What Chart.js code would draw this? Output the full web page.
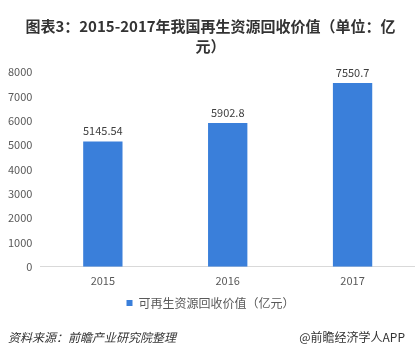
<!DOCTYPE html>
<html><head><meta charset="utf-8">
<script src="https://cdn.jsdelivr.net/npm/chart.js@4/dist/chart.umd.min.js"></script>
<style>
html,body{margin:0;padding:0;background:#fff;}
#wrap{position:relative;width:415px;height:355px;overflow:hidden;}
canvas{position:absolute;left:0;top:0;}
.foot{position:absolute;top:329px;font-family:"Noto Sans CJK SC","Noto Sans",sans-serif;font-size:12px;color:#333;line-height:16px;}
</style></head>
<body><div id="wrap"><canvas id="c" width="415" height="355"></canvas>
<div class="foot" style="left:8px;font-style:italic;">资料来源：前瞻产业研究院整理</div>
<div class="foot" style="right:10px;">@前瞻经济学人APP</div>
</div>
<script>
const categories = ['2015', '2016', '2017'];
const values = [5145.54, 5902.8, 7550.7];
const valueLabels = ['5145.54', '5902.8', '7550.7'];
const seriesName = '可再生资源回收价值（亿元）';
const titleLines = ['图表3：2015-2017年我国再生资源回收价值（单位：亿', '元）'];

const FONT = '"Noto Sans CJK SC","Noto Sans",sans-serif';
const labelPlugin = {
  id: 'vlabels',
  afterDatasetsDraw(chart) {
    const ctx = chart.ctx;
    const meta = chart.getDatasetMeta(0);
    ctx.save();
    ctx.font = '11px ' + FONT;
    ctx.fillStyle = '#404040';
    ctx.textAlign = 'center';
    ctx.textBaseline = 'bottom';
    meta.data.forEach((bar, i) => {
      ctx.fillText(valueLabels[i], bar.x, bar.y - 5);
    });
    ctx.restore();
  }
};

new Chart(document.getElementById('c'), {
  type: 'bar',
  data: {
    labels: categories,
    datasets: [{
      label: seriesName,
      data: values,
      backgroundColor: '#3A7FDA',
      categoryPercentage: 0.315,
      barPercentage: 1.0
    }]
  },
  options: {
    responsive: false,
    animation: false,
    devicePixelRatio: 1,
    layout: { padding: { left: 0, right: -6, top: 6, bottom: 36 } },
    plugins: {
      title: {
        display: true,
        text: titleLines,
        color: '#333333',
        font: { family: FONT, size: 15, weight: 'bold', lineHeight: 1.3 },
        padding: { top: 11, bottom: 16 }
      },
      legend: {
        display: true,
        position: 'bottom',
        labels: {
          boxWidth: 6, boxHeight: 6, color: '#595959',
          font: { family: FONT, size: 12 },
          padding: 3
        }
      },
      tooltip: { enabled: false }
    },
    scales: {
      x: {
        grid: { display: false, drawTicks: false },
        border: { display: true, color: '#D9D9D9' },
        ticks: { color: '#595959', font: { family: FONT, size: 11 }, padding: 7 }
      },
      y: {
        min: 0, max: 8000,
        grid: { display: false, drawTicks: false },
        border: { display: false },
        ticks: { stepSize: 1000, color: '#595959', font: { family: FONT, size: 11 }, padding: 8,
          callback: (v) => String(v) }
      }
    }
  },
  plugins: [labelPlugin]
});
</script>
</body></html>
